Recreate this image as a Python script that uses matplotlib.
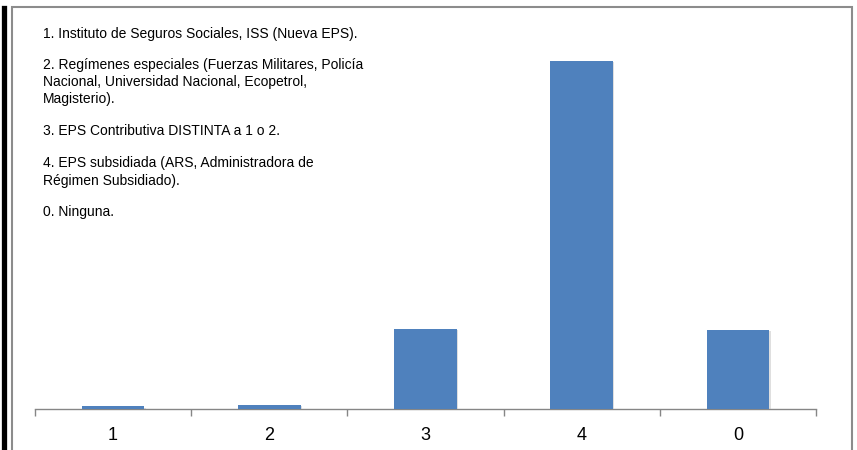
"""Distribución por tipo de afiliación a EPS"""
import matplotlib
matplotlib.use('Agg')
import matplotlib.pyplot as plt
import matplotlib.patheffects as pe
from matplotlib.patches import Rectangle
from matplotlib.lines import Line2D

categories = ['1', '2', '3', '4', '0']
values = [0.5, 0.8, 15.6, 67.8, 15.4]

legend_lines = [
    ['1. Instituto de Seguros Sociales, ISS (Nueva EPS).'],
    ['2. Regímenes especiales (Fuerzas Militares, Policía',
     'Nacional, Universidad Nacional, Ecopetrol,',
     'Magisterio).'],
    ['3. EPS Contributiva DISTINTA a 1 o 2.'],
    ['4. EPS subsidiada (ARS, Administradora de',
     'Régimen Subsidiado).'],
    ['0. Ninguna.'],
]

W, H = 857, 450
plt.rcParams['font.family'] = ['Liberation Sans Narrow', 'Liberation Sans', 'DejaVu Sans']

fig = plt.figure(figsize=(W / 100, H / 100), dpi=100)

# outer frame and the black rule on the left
fig.add_artist(Rectangle((12 / W, -0.1), 840 / W, 1.1 - 7 / H, transform=fig.transFigure,
                         fill=False, edgecolor='#8c8c8c', linewidth=1.5))
fig.add_artist(Line2D([4 / W, 4 / W], [0, 1 - 8 / H], transform=fig.transFigure,
                      color='black', linewidth=3.8))

ax = fig.add_axes([35 / W, 41 / H, 781 / W, 389 / H])
x = range(len(categories))
bars = ax.bar(x, values, width=0.4, color='#4F81BD', zorder=3)
for b in bars:
    b.set_path_effects([pe.SimplePatchShadow(offset=(1, -1), shadow_rgbFace='#b8b8b8', alpha=0.45),
                        pe.Normal()])

ax.set_xlim(-0.5, len(categories) - 0.5)
ax.set_ylim(0, 75.8)
ax.set_xticks([i + 0.5 for i in range(-1, len(categories))])
ax.set_xticklabels([])
ax.set_xticks(list(x), minor=True)
ax.set_xticklabels(categories, minor=True, fontsize=13)
ax.tick_params(axis='x', which='major', length=5, color='#868686', width=1)
ax.tick_params(axis='x', which='minor', length=0, pad=13)
ax.set_yticks([])
for s in ['left', 'right', 'top']:
    ax.spines[s].set_visible(False)
ax.spines['bottom'].set_color('#868686')
ax.spines['bottom'].set_linewidth(1)
ax.patch.set_alpha(0)

# legend-like text block
y_pos = [[34], [65, 82, 99], [131], [163, 181], [212]]
for lines, ys in zip(legend_lines, y_pos):
    for line, yy in zip(lines, ys):
        fig.text(43 / W, 1 - yy / H, line, fontsize=10, va='center', ha='left', color='black')

fig.savefig('out.png', dpi=100)
